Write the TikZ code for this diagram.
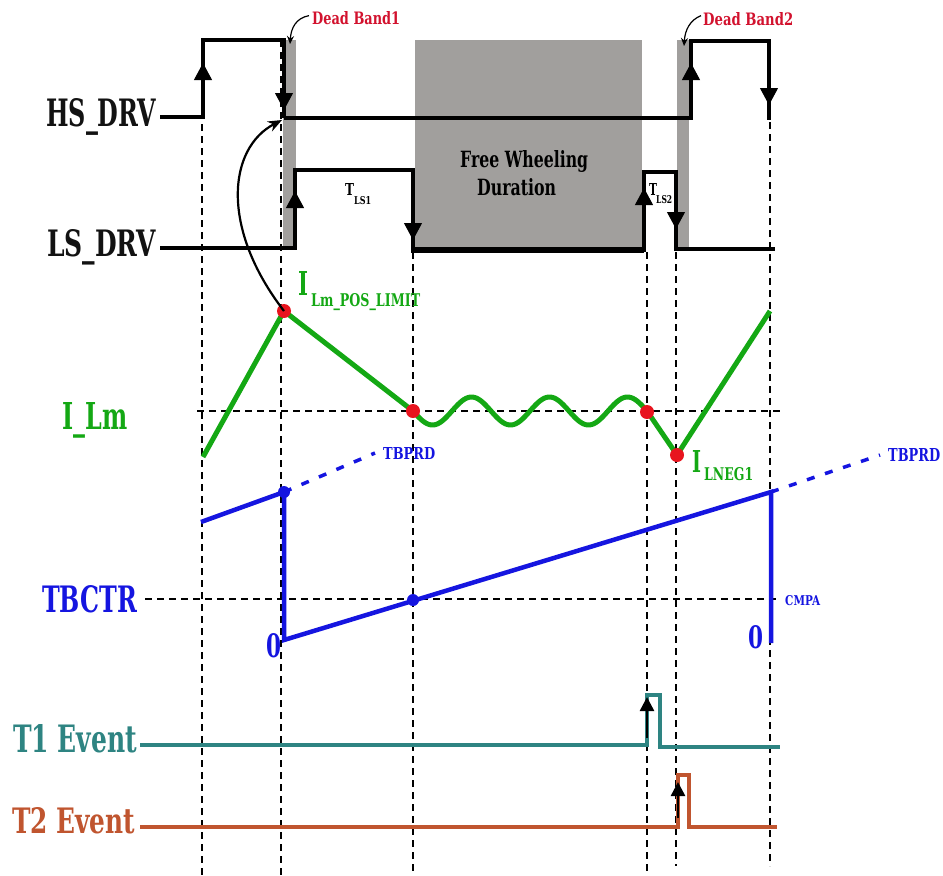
\documentclass[tikz,border=0pt]{standalone}
\usepackage{fontspec}
\usepackage{graphicx}
\setmainfont{DejaVu Serif}
\usetikzlibrary{arrows.meta}
\definecolor{dbred}{HTML}{D2122E}
\definecolor{lmgreen}{HTML}{14A814}
\definecolor{ctrblue}{HTML}{1515E0}
\definecolor{tteal}{HTML}{2E8482}
\definecolor{torange}{HTML}{C0552F}
\definecolor{fwgray}{HTML}{A19F9D}
\definecolor{dotred}{HTML}{E8141E}
\newcommand\fitt[3]{\resizebox{#1pt}{#2pt}{#3}}
\begin{document}
\begin{tikzpicture}[x=1pt,y=-1pt,
  wave/.style={line width=4.5pt, black, line join=miter},
  guide/.style={black, line width=1.4pt, dash pattern=on 7pt off 5pt},
  edgearrow/.style={-{Triangle[length=17pt,width=18pt]}, line width=1pt, black},
  lbl/.style={inner sep=0pt, anchor=base west, font=\bfseries},
  thinarrow/.style={-{Stealth[length=8pt,width=7pt]}, line width=1.2pt, black},
  bigarrow/.style={-{Stealth[length=14pt,width=11pt]}, line width=2.2pt, black},
  gbox/.style={fill=fwgray, draw=none},
  reddot/.style={circle, fill=dotred, inner sep=0pt, minimum size=14pt},
  bluedot/.style={circle, fill=ctrblue, inner sep=0pt, minimum size=12pt},
  bluedash/.style={ctrblue, line width=3.5pt, dash pattern=on 8pt off 11pt}]
\useasboundingbox (0,0) rectangle (943,876);

% gray regions
\fill[gbox] (283,40) rectangle (296,250);
\fill[gbox] (415,40) rectangle (642,250);
\fill[gbox] (677,40) rectangle (689,250);

% vertical guides
\draw[guide] (202,124) -- (202,876);
\draw[guide] (281,40) -- (281,876);
\draw[guide] (413,252) -- (413,876);
\draw[guide] (647,252) -- (647,876);
\draw[guide] (676,252) -- (676,866);
\draw[guide] (770,122) -- (770,866);
% horizontal guides
\draw[guide] (197,411) -- (783,411);
\draw[guide] (145,599) -- (778,599);

% HS_DRV
\draw[wave] (160,117) -- (203,117) -- (203,40) -- (284,40) -- (284,118);
\draw[black, line width=3.2pt] (284,118) -- (692,118);
\draw[wave] (691,120) -- (691,41) -- (769,41) -- (769,120);
\draw[edgearrow] (203,95) -- (203,63);
\draw[edgearrow] (284,78) -- (284,110);
\draw[edgearrow] (691,95) -- (691,63);
\draw[edgearrow] (769,73) -- (769,105);

% LS_DRV
\draw[wave] (160,248) -- (295,248) -- (295,170) -- (413,170) -- (413,250);
\draw[black, line width=6pt] (411,250) -- (644,250);
\draw[wave] (644,252) -- (644,172) -- (676,172) -- (676,249) -- (775,249);
\draw[edgearrow] (295,222) -- (295,191);
\draw[edgearrow] (413,208) -- (413,240);
\draw[edgearrow] (644,218) -- (644,188);
\draw[edgearrow] (676,198) -- (676,229);

% dead band pointers
\node[lbl, text=dbred] (db1) at (312,24) {\fitt{88}{13}{Dead Band1}};
\node[lbl, text=dbred] (db2) at (703,25) {\fitt{90}{13}{Dead Band2}};
\coordinate (db1tip) at (290,44);
\coordinate (db2tip) at (684,46);
\draw[thinarrow] (db1.west) ++(-3,-2) .. controls (296,18) and (291,28) .. (db1tip);
\draw[thinarrow] (db2.west) ++(-2,-3) .. controls (690,20) and (685,30) .. (db2tip);

% LS labels
\node[lbl] (tls1) at (345,195) {\fitt{9}{12}{T}};
\node[lbl] (tls1s) at (354,204) {\fitt{17}{8}{LS1}};
\node[lbl] (tls2) at (649,195) {\fitt{8}{12}{T}};
\node[lbl] (tls2s) at (656,203) {\fitt{16}{8}{LS2}};
\node[lbl] (fw1) at (460,167) {\fitt{128}{17}{Free Wheeling}};
\node[lbl] (fw2) at (477,195) {\fitt{79}{17}{Duration}};

% left labels
\node[lbl, text=black!93] (hs) at (46,126) {\fitt{110}{28}{HS\_DRV}};
\node[lbl, text=black!93] (ls) at (47,256) {\fitt{109}{27}{LS\_DRV}};
\node[lbl, text=lmgreen] (ilm) at (62,429) {\fitt{65}{27}{I\_Lm}};
\node[lbl, text=ctrblue] (tbctr) at (42,612) {\fitt{95}{27}{TBCTR}};
\node[lbl, text=tteal] (t1) at (13,752) {\fitt{124}{28}{T1 Event}};
\node[lbl, text=torange] (t2) at (12,833) {\fitt{123}{26}{T2 Event}};

% I_Lm waveform
\draw[lmgreen, line width=5pt, line join=round]
  (203,457) -- (284,311) -- (413,411)
  -- plot[domain=413:647, samples=120, smooth] (\x, {411 + 14*sin(4.6154*(\x-413))})
  -- (677,455) -- (770,311);
\node[reddot] (p1) at (284,311) {};
\node[reddot] (p2) at (413,411) {};
\node[reddot] (p3) at (647,412) {};
\node[reddot] (p4) at (677,455) {};
\node[lbl, text=lmgreen] (ipos) at (298,295) {\fitt{10}{24}{I}};
\node[lbl, text=lmgreen] (iposs) at (311,306) {\fitt{109}{13}{Lm\_POS\_LIMIT}};
\node[lbl, text=lmgreen] (ineg) at (692,472) {\fitt{9}{22}{I}};
\node[lbl, text=lmgreen] (inegs) at (704,480) {\fitt{49}{13}{LNEG1}};

% curved arrow from limit to HS falling edge
\coordinate (hsfall) at (282,120);
\draw[bigarrow] (p1.center) .. controls (220,228) and (228,148) .. (hsfall);

% TBCTR sawtooth
\draw[bluedash] (284,492) -- (375,453);
\draw[bluedash] (771,492) -- (880,455);
\draw[ctrblue, line width=4.5pt, line join=miter]
  (201,522) -- (284,492) -- (284,640) -- (771,492) -- (771,643);
\node[bluedot] (b1) at (284,492) {};
\node[bluedot] (b2) at (413,600) {};
\node[lbl, text=ctrblue] (prd1) at (383,459) {\fitt{52}{12}{TBPRD}};
\node[lbl, text=ctrblue] (prd2) at (888,461) {\fitt{52}{13}{TBPRD}};
\node[lbl, text=ctrblue] (cmpa) at (785,605) {\fitt{35}{10}{CMPA}};
\node[lbl, text=ctrblue] (z1) at (266,657) {\fitt{15}{24}{0}};
\node[lbl, text=ctrblue] (z2) at (748,648) {\fitt{15}{23}{0}};

% events
\draw[tteal, line width=3.5pt] (140,745) -- (647,745) -- (647,695) -- (660,695) -- (660,747) -- (780,747);
\draw[torange, line width=3.5pt] (140,827) -- (678,827) -- (678,775) -- (689,775) -- (689,827) -- (777,827);
\draw[-{Triangle[length=14pt,width=14pt]}, line width=2.5pt, black] (647,738) -- (647,697);
\draw[-{Triangle[length=14pt,width=14pt]}, line width=2.5pt, black] (678,818) -- (678,782);
\end{tikzpicture}
\end{document}
